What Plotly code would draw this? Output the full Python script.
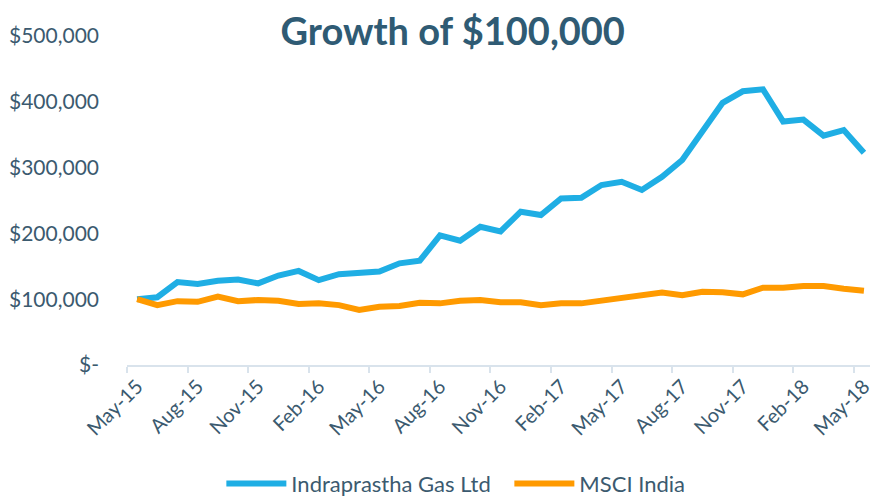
import plotly.graph_objects as go

months = ["May-15","Jun-15","Jul-15","Aug-15","Sep-15","Oct-15","Nov-15","Dec-15","Jan-16","Feb-16",
          "Mar-16","Apr-16","May-16","Jun-16","Jul-16","Aug-16","Sep-16","Oct-16","Nov-16","Dec-16",
          "Jan-17","Feb-17","Mar-17","Apr-17","May-17","Jun-17","Jul-17","Aug-17","Sep-17","Oct-17",
          "Nov-17","Dec-17","Jan-18","Feb-18","Mar-18","Apr-18","May-18"]

igl = [100000, 103000, 126000, 123000, 128000, 130000, 124000, 136000, 143000, 129000,
       138000, 140000, 142000, 154500, 158500, 197000, 189000, 210000, 203000, 233000,
       228000, 253000, 254000, 273500, 278500, 266000, 286000, 311500, 356000, 398500,
       416000, 419000, 370000, 373000, 348500, 357000, 322500]

msci = [100000, 91000, 97000, 96000, 104000, 97000, 98800, 97700, 92700, 93700,
        91000, 83600, 88600, 89700, 94700, 93700, 97700, 98800, 95300, 95300,
        91000, 93700, 93700, 97700, 103800, 108000, 110000, 106000, 111400, 110500,
        107400, 117500, 117500, 120000, 120000, 116000, 113000]

y_ticks = [0, 100000, 200000, 300000, 400000, 500000]
y_ticktext = ["$-", "$100,000", "$200,000", "$300,000", "$400,000", "$500,000"]

text_color = "#3B5A6F"

fig = go.Figure()
fig.add_trace(go.Scatter(x=months, y=igl, mode="lines", name="Indraprastha Gas Ltd",
                         line=dict(color="#1FAEE4", width=6)))
fig.add_trace(go.Scatter(x=months, y=msci, mode="lines", name="MSCI India",
                         line=dict(color="#FF9A00", width=6)))

fig.update_layout(
    width=874, height=497,
    margin=dict(l=127, r=0, t=36, b=132),
    paper_bgcolor="white", plot_bgcolor="white",
    font=dict(family="Lato, 'Open Sans', sans-serif", color=text_color),
    title=dict(text="<b>Growth of $100,000</b>", x=0.518, xanchor="center",
               y=1 - 32/497, yanchor="middle", yref="container",
               font=dict(size=38, color="#2F5B74", family="Lato, sans-serif")),
    showlegend=True,
    legend=dict(orientation="h", x=0.127, xanchor="left", y=0.027, yref="container",
                yanchor="middle", font=dict(size=22, color=text_color), itemwidth=60,
                entrywidth=213, entrywidthmode="pixels"),
    xaxis=dict(type="category", tickmode="linear", tick0=0, dtick=3, tickson="boundaries",
               range=[-0.5, 36.3], tickangle=-45, showgrid=False,
               showline=True, linecolor="#D9E3EC", linewidth=2,
               ticks="outside", ticklen=6, tickcolor="#D9E3EC", tickwidth=2,
               tickfont=dict(size=20, color=text_color)),
    yaxis=dict(range=[0, 500000], tickvals=y_ticks, ticktext=y_ticktext,
               showgrid=False, zeroline=False, showline=False,
               ticklabelstandoff=27, tickfont=dict(size=21, color=text_color)),
)

fig.write_html("out.html")
